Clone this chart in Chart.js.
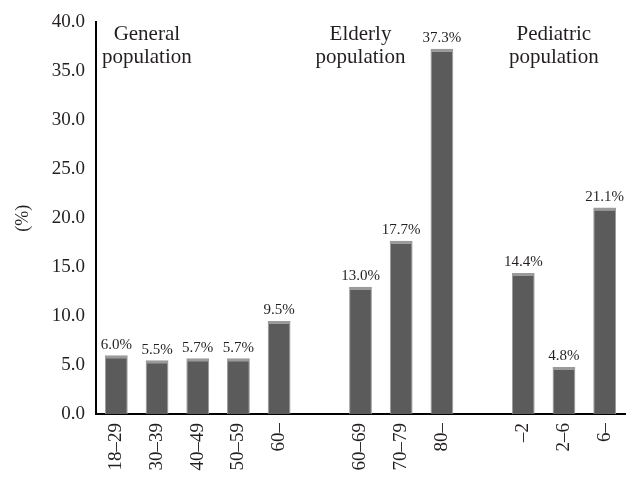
<!DOCTYPE html>
<html>
<head>
<meta charset="utf-8">
<script src="https://cdn.jsdelivr.net/npm/chart.js@4"></script>
<style>
  html, body { margin: 0; padding: 0; background: #fff; }
  #wrap { width: 633px; height: 477px; }
</style>
</head>
<body>
<div id="wrap"><canvas id="chart" width="633" height="477"></canvas></div>
<script>
// age groups, blank entries are the gaps between the three populations
const categories = ['18–29', '30–39', '40–49', '50–59', '60–', '', '60–69', '70–79', '80–', '', '–2', '2–6', '6–'];
const values = [6.0, 5.5, 5.7, 5.7, 9.5, null, 13.0, 17.7, 37.3, null, 14.4, 4.8, 21.1];
const yTicks = [0, 5, 10, 15, 20, 25, 30, 35, 40];
const groupNames = [['General', 'population'], ['Elderly', 'population'], ['Pediatric', 'population']];

const FONT = '"Liberation Serif", "Times New Roman", serif';

const valueLabels = {
  id: 'valueLabels',
  afterDatasetsDraw(chart) {
    const ctx = chart.ctx;
    const meta = chart.getDatasetMeta(0);
    ctx.save();
    ctx.font = `15px ${FONT}`;
    ctx.fillStyle = '#231f20';
    ctx.textAlign = 'center';
    ctx.textBaseline = 'bottom';
    meta.data.forEach((bar, i) => {
      if (values[i] == null) return;
      ctx.fillText(values[i].toFixed(1) + '%', bar.x, bar.y - 3);
    });
    ctx.restore();
  },
};

const groupTitles = {
  id: 'groupTitles',
  afterDraw(chart) {
    const ctx = chart.ctx;
    const x = chart.scales.x;
    ctx.save();
    ctx.font = `21px ${FONT}`;
    ctx.fillStyle = '#231f20';
    ctx.textAlign = 'center';
    ctx.textBaseline = 'alphabetic';
    // centre positions in category units
    const centers = [0.75, 6, 10.75];
    groupNames.forEach((lines, g) => {
      const cx = x.getPixelForValue(centers[g]);
      ctx.fillText(lines[0], cx, 40);
      ctx.fillText(lines[1], cx, 63);
    });
    ctx.restore();
  },
};

new Chart(document.getElementById('chart'), {
  type: 'bar',
  data: {
    labels: categories,
    datasets: [{
      data: values,
      backgroundColor: '#5b5b5b',
      borderColor: '#9a9a9a',
      borderWidth: { top: 3, left: 1, right: 1, bottom: 0 },
      borderSkipped: 'bottom',
      barPercentage: 0.56,
      categoryPercentage: 1,
    }],
  },
  options: {
    responsive: false,
    animation: false,
    layout: { padding: { top: 20, right: 8, left: 0, bottom: 0 } },
    plugins: {
      legend: { display: false },
      tooltip: { enabled: false },
    },
    scales: {
      x: {
        grid: { display: false, drawTicks: false },
        border: { display: true, color: '#000', width: 2 },
        ticks: {
          color: '#231f20',
          font: { family: FONT, size: 19 },
          minRotation: 90,
          maxRotation: 90,
          padding: 9,
        },
        afterFit(scale) {
          scale.height = 63;
          scale.paddingLeft = 0;
          scale.paddingRight = 0;
        },
      },
      y: {
        min: 0,
        max: 40,
        grid: { display: false, drawTicks: false },
        border: { display: true, color: '#000', width: 2 },
        afterBuildTicks(scale) { scale.ticks = yTicks.map((v) => ({ value: v })); },
        ticks: {
          color: '#231f20',
          font: { family: FONT, size: 19 },
          padding: 11,
          callback: (v) => Number(v).toFixed(1),
        },
        title: {
          display: true,
          text: '(%)',
          color: '#231f20',
          font: { family: FONT, size: 18 },
          padding: { top: 12, bottom: 0 },
        },
        afterFit(scale) { scale.width = 96; },
      },
    },
  },
  plugins: [valueLabels, groupTitles],
});
</script>
</body>
</html>
